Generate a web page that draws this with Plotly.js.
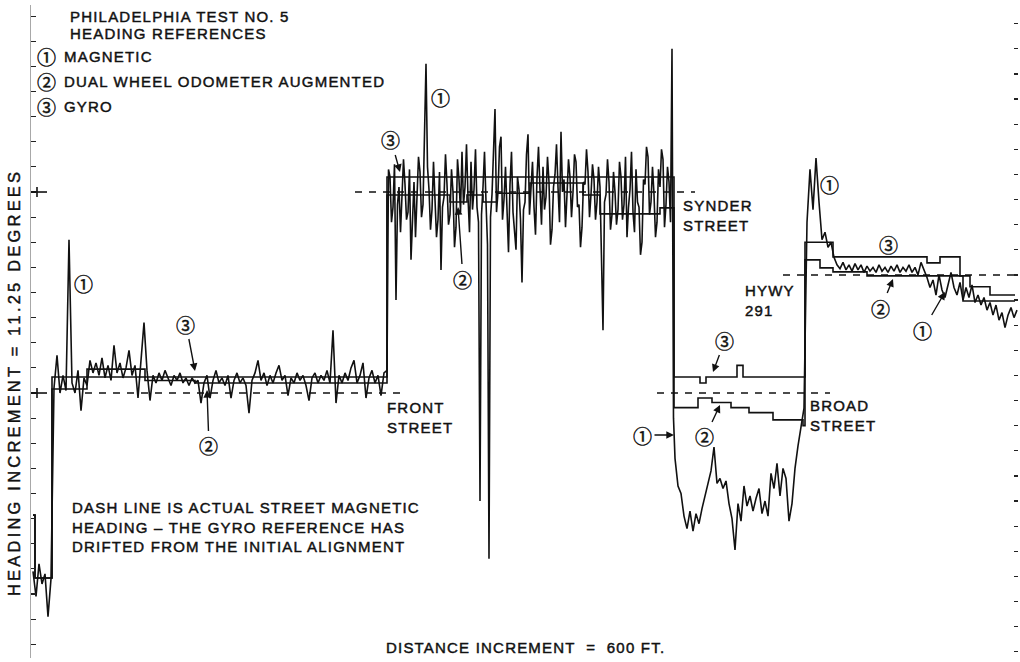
<!DOCTYPE html>
<html>
<head>
<meta charset="utf-8">
<script src="https://cdn.plot.ly/plotly-3.0.1.min.js"></script>
<style>
  html, body { margin: 0; padding: 0; background: #fff; }
  #chart { width: 1020px; height: 662px; }
  .annotation-text { letter-spacing: 1.2px; stroke: #111; stroke-width: 0.45px; }
</style>
</head>
<body>
<div id="chart"></div>
<script>
// Philadelphia Test No. 5: vehicle heading from three references along the route.
// Heading is counted in increments of 11.25 degrees; distance in recorder increments.

const seriesNames = ['MAGNETIC', 'DUAL WHEEL ODOMETER AUGMENTED', 'GYRO'];
const circled = ['\u2460', '\u2461', '\u2462'];

// Actual magnetic heading of each street (drawn dashed)
const streetNames   = ['FRONT STREET', 'SYNDER STREET', 'BROAD STREET', 'HYWY 291'];
const streetFrom    = [5.2, 32.2, 62.4, 75.0];
const streetTo      = [36.7, 66.2, 79.7, 98.5];
const streetHeading = [10, 18, 10, 14.7];

// (1) Magnetic heading, recorded in three runs of evenly spaced samples
const magRunStart = [0, 35.4, 64.2];
const magRunStep  = [0.3, 0.15, 0.3];

// start and Front Street
const magRunFront = [
  2.9, 1.9, 3.2, 2.4, 2.8, 1.1, 2.6,
  10.2, 11.5, 10.0, 10.7, 10.1, 16.1, 10.4, 10.0, 10.9, 9.3,
  10.6, 10.3, 11.3, 10.8, 11.2, 10.7, 11.4, 10.6, 11.1, 10.5,
  11.9, 10.8, 11.2, 10.6, 11.0, 11.7, 10.7, 11.1, 9.8, 11.3,
  12.8, 10.9, 9.7, 10.7, 10.4, 10.8, 10.5, 10.9, 10.6, 10.3,
  10.7, 10.5, 10.8, 10.4, 10.6, 10.3, 10.6, 10.4, 10.5, 9.6,
  10.4, 10.7, 9.8, 10.5, 10.9, 10.4, 10.6, 10.3, 10.7, 9.8,
  10.5, 10.8, 10.4, 10.6, 10.3, 9.2, 10.5, 10.8, 11.3, 10.5,
  10.8, 10.3, 10.7, 10.4, 10.8, 11.1, 10.5, 10.7, 9.9, 10.6,
  10.4, 10.8, 10.5, 10.7, 10.3, 9.7, 10.6, 10.8, 10.4, 10.7,
  10.5, 10.9, 10.4, 12.5, 9.6, 10.7, 10.4, 10.8, 10.5, 11.0,
  11.3, 10.4, 10.7, 11.2, 9.8, 10.6, 10.9, 10.4, 10.7, 9.9, 10.8
];

// Synder Street
const magRunSynder = [
  10.9, 18.9, 18.6, 16.8, 17.4, 19.1, 13.7, 17.5, 18.2, 16.4,
  17.6, 19.3, 18.3, 16.9, 17.2, 18.9, 15.3, 17.0, 18.4, 16.2,
  17.9, 19.4, 18.8, 17.0, 17.5, 19.9, 23.1, 19.0, 18.1, 16.5,
  17.3, 19.2, 18.0, 16.2, 16.9, 18.8, 14.9, 17.4, 17.8, 19.5,
  18.3, 16.7, 17.1, 18.9, 18.0, 15.8, 16.6, 19.3, 18.5, 17.2,
  19.6, 17.5, 18.2, 19.9, 17.8, 16.4, 19.2, 17.3, 18.1, 19.7,
  17.4, 16.8, 5.7, 17.1, 18.2, 19.6, 17.6, 15.9, 3.4, 17.0,
  17.9, 19.4, 21.3, 17.2, 18.0, 19.8, 20.2, 16.9, 17.7, 19.0,
  16.8, 15.6, 18.3, 19.6, 17.2, 16.3, 15.7, 18.6, 18.1, 16.9,
  14.4, 17.3, 17.6, 19.5, 20.3, 17.1, 18.0, 19.2, 17.4, 16.3,
  18.6, 19.8, 18.1, 16.7, 19.0, 17.3, 17.8, 19.4, 18.4, 15.9,
  16.5, 18.2, 18.7, 19.9, 18.2, 16.8, 20.4, 18.0, 18.5, 16.6,
  17.9, 19.3, 18.6, 17.0, 18.0, 19.5, 19.2, 17.4, 17.5, 15.8,
  16.6, 18.4, 18.3, 19.7, 18.8, 17.0, 17.9, 19.1, 18.5, 16.9,
  17.6, 19.0, 18.2, 15.4, 12.5, 17.6, 17.9, 19.3, 18.4, 16.5,
  17.1, 18.8, 18.0, 16.7, 17.3, 19.2, 18.6, 16.9, 17.5, 19.4,
  16.2, 17.4, 18.1, 19.6, 17.2, 16.4, 18.9, 17.6, 17.4, 15.5,
  16.0, 18.5, 18.3, 19.8, 19.4, 17.1, 17.6, 19.0, 17.9, 16.2,
  16.8, 18.9, 18.2, 19.7, 19.3, 16.6, 17.5, 19.0, 18.4, 16.8,
  23.7, 9.0
];

// Broad Street and Highway 291
const magRunBroadHwy = [
  7.4, 6.3, 6.0, 5.1, 4.6, 5.3, 4.5, 5.2, 4.8, 5.4,
  5.9, 6.5, 6.9, 7.85, 6.4, 6.6, 6.2, 6.5, 5.6, 5.0,
  3.75, 5.6, 4.9, 6.3, 5.5, 5.9, 5.3, 5.8, 6.2, 5.2,
  5.7, 5.1, 6.8, 6.2, 7.2, 5.9, 7.0, 6.6, 4.9, 5.6,
  7.0, 7.9, 8.6, 9.4,
  16.8, 18.9, 17.3, 19.35, 17.6, 16.1, 16.4, 15.8, 16.0, 15.4,
  15.1, 14.95, 15.2, 14.9, 15.1, 14.85, 15.15, 14.9, 15.1, 14.8,
  15.05, 14.85, 15.0, 14.8, 15.1, 14.85, 15.0, 14.8, 15.05, 14.85,
  15.1, 14.8, 15.0, 14.85, 15.1, 14.8, 15.0, 14.7, 15.2, 14.9,
  14.6, 14.2, 14.5, 13.9, 14.7, 14.1, 13.8, 14.3, 14.8, 14.2,
  13.9, 14.4, 13.7, 14.2, 13.8, 14.3, 13.6, 13.9, 13.5, 13.8,
  13.3, 13.6, 13.1, 13.5, 12.9, 13.2, 12.6, 13.1, 13.4, 13.0, 13.3
];

const magRuns = [magRunFront, magRunSynder, magRunBroadHwy];
const magDistance = [], magneticHeading = [];
magRuns.forEach((run, r) => run.forEach((h, i) => {
  magDistance.push(+(magRunStart[r] + i * magRunStep[r]).toFixed(2));
  magneticHeading.push(h);
}));

// (2) Dual wheel odometer augmented heading (held between steps)
const odoDistance = [0, 0.2, 1.9, 5.4, 11.2, 16.2, 35.4, 41.7, 43.4, 45.0, 46.4, 49.7, 55.0, 56.7,
                     62.7, 64.1, 66.5, 67.9, 69.8, 71.6, 74.0, 77.0, 77.2, 78.7, 80.0, 83.4, 93.0, 98.2];
const odoHeading  = [5.14, 2.64, 10.16, 10.64, 10.5, 10.4, 17.88, 17.6, 17.88, 17.6, 17.95, 18.36, 17.88, 17.13,
                     17.37, 9.42, 9.8, 9.62, 9.42, 9.22, 8.93, 8.7, 15.3, 14.98, 14.82, 14.66, 13.66, 13.66];

// (3) Gyro heading (held between steps)
const gyroDistance = [0, 0.2, 1.9, 5.4, 11.2, 35.4, 64.1, 66.7, 67.3, 70.4, 71.0, 77.2, 80.0, 89.4, 90.7, 92.7, 93.7, 95.7, 98.2];
const gyroHeading  = [5.14, 2.64, 10.64, 10.95, 10.64, 18.6, 10.64, 10.4, 10.64, 11.1, 10.64, 16.0, 15.42, 15.18, 15.42, 14.66, 14.23, 13.9, 13.9];

// ---- page geometry ----
const W = 1020, H = 662;
const M = { l: 31, r: 2, t: 5, b: 4 };
const plotW = W - M.l - M.r, plotH = H - M.t - M.b;
const X_RANGE = [-0.2, 98.5];
const Y_RANGE = [-0.547, 25.443];
const ink = '#111';
const textFont = { family: 'Liberation Sans, Arial, sans-serif', size: 15, color: ink };
const digitFont = { family: 'Noto Sans CJK JP, DejaVu Sans, sans-serif', size: 19, color: ink };

// page pixel -> paper fraction
const fx = p => (p - M.l) / plotW;
const fy = p => (H - M.b - p) / plotH;

function label(text, left, mid, extra) {
  return Object.assign({
    xref: 'paper', yref: 'paper', x: fx(left), y: fy(mid),
    xanchor: 'left', yanchor: 'middle', align: 'left',
    showarrow: false, text: text, font: textFont
  }, extra || {});
}

function tag(k, cx, cy, head) {
  const a = {
    xref: 'paper', yref: 'paper', text: circled[k], font: digitFont,
    xanchor: 'center', yanchor: 'middle', showarrow: false
  };
  if (head) {
    a.x = fx(head[0]); a.y = fy(head[1]);
    a.ax = cx - head[0]; a.ay = cy - head[1];
    a.showarrow = true; a.arrowhead = 2; a.arrowsize = 1.1;
    a.arrowwidth = 1.4; a.arrowcolor = ink; a.standoff = 0;
  } else {
    a.x = fx(cx); a.y = fy(cy);
  }
  return a;
}

// ---- traces ----
const traces = [];
streetHeading.forEach((h, k) => {
  traces.push({
    x: [streetFrom[k], streetTo[k]], y: [h, h], name: streetNames[k],
    mode: 'lines', line: { color: ink, width: 1.5, dash: '7px,7px' },
    yaxis: k === 3 ? 'y2' : 'y', hoverinfo: 'skip'
  });
});
traces.push({ x: magDistance, y: magneticHeading, name: seriesNames[0], mode: 'lines',
              line: { color: ink, width: 1.6 } });
traces.push({ x: odoDistance, y: odoHeading, name: seriesNames[1], mode: 'lines',
              line: { color: ink, width: 1.6, shape: 'hv' } });
traces.push({ x: gyroDistance, y: gyroHeading, name: seriesNames[2], mode: 'lines',
              line: { color: ink, width: 1.6, shape: 'hv' } });

// ---- notes ----
const annotations = [
  label('PHILADELPHIA TEST NO. 5', 68, 17),
  label('HEADING REFERENCES', 68, 33),
  tag(0, 47, 57), label(seriesNames[0], 62, 57),
  tag(1, 47, 81), label(seriesNames[1], 62, 81),
  tag(2, 47, 106), label(seriesNames[2], 62, 106),

  label('FRONT<br>STREET', 385, 417),
  label('SYNDER<br>STREET', 681, 215),
  label('HYWY<br>291', 743, 300),
  label('BROAD<br>STREET', 808, 416),
  label('DASH LINE IS ACTUAL STREET MAGNETIC<br>HEADING \u2013 THE GYRO REFERENCE HAS<br>DRIFTED FROM THE INITIAL ALIGNMENT', 70, 527),

  { xref: 'paper', yref: 'paper', x: fx(525), y: fy(647), xanchor: 'center', yanchor: 'middle',
    showarrow: false, text: 'DISTANCE INCREMENT  =  600 FT.', font: textFont },
  { xref: 'paper', yref: 'paper', x: fx(14), y: fy(383), xanchor: 'center', yanchor: 'middle',
    showarrow: false, textangle: -90,
    text: '<span style="letter-spacing:3.2px">HEADING INCREMENT = 11.25 DEGREES</span>',
    font: { family: textFont.family, size: 16.5, color: ink } },

  // Front Street
  tag(0, 84, 283),
  tag(2, 186, 324, [195, 371]),
  tag(1, 209, 446, [207, 390]),
  // Synder Street
  tag(0, 441, 97),
  tag(2, 391, 140, [400, 172]),
  tag(1, 463, 279, [458, 207]),
  // Broad Street
  tag(2, 725, 340, [713, 372]),
  tag(1, 705, 437, [720, 405]),
  tag(0, 643, 435, [674, 435]),
  // Highway 291
  tag(0, 830, 184),
  tag(2, 889, 245),
  tag(1, 881, 308, [893, 279]),
  tag(0, 923, 330, [945, 292])
];

// Heavier marks on the heading scale at the Front and Synder street levels
const shapes = [];
[streetHeading[0], streetHeading[1]].forEach(h => {
  shapes.push({ type: 'line', xref: 'paper', yref: 'y', x0: 0, x1: fx(47), y0: h, y1: h,
                line: { color: ink, width: 1.6 } });
  shapes.push({ type: 'line', xref: 'paper', yref: 'y', x0: fx(37), x1: fx(37), y0: h - 0.2, y1: h + 0.2,
                line: { color: ink, width: 1.6 } });
});

const layout = {
  width: W, height: H, margin: M,
  paper_bgcolor: '#fff', plot_bgcolor: '#fff',
  showlegend: false,
  font: textFont,
  xaxis: { range: X_RANGE, visible: false },
  yaxis: {
    range: Y_RANGE, tick0: 0, dtick: 1, ticks: 'inside', ticklen: 5, tickwidth: 1.2, tickcolor: '#222',
    showticklabels: false, showgrid: false, zeroline: false,
    showline: true, linecolor: '#a8a8a8', linewidth: 1
  },
  yaxis2: {
    overlaying: 'y', side: 'right', range: Y_RANGE, tick0: 0.7, dtick: 1,
    ticks: 'inside', ticklen: 4, tickwidth: 1.2, tickcolor: '#222',
    showticklabels: false, showgrid: false, zeroline: false, showline: false
  },
  annotations: annotations,
  shapes: shapes
};

Plotly.newPlot('chart', traces, layout, { staticPlot: true, displayModeBar: false });
</script>
</body>
</html>
